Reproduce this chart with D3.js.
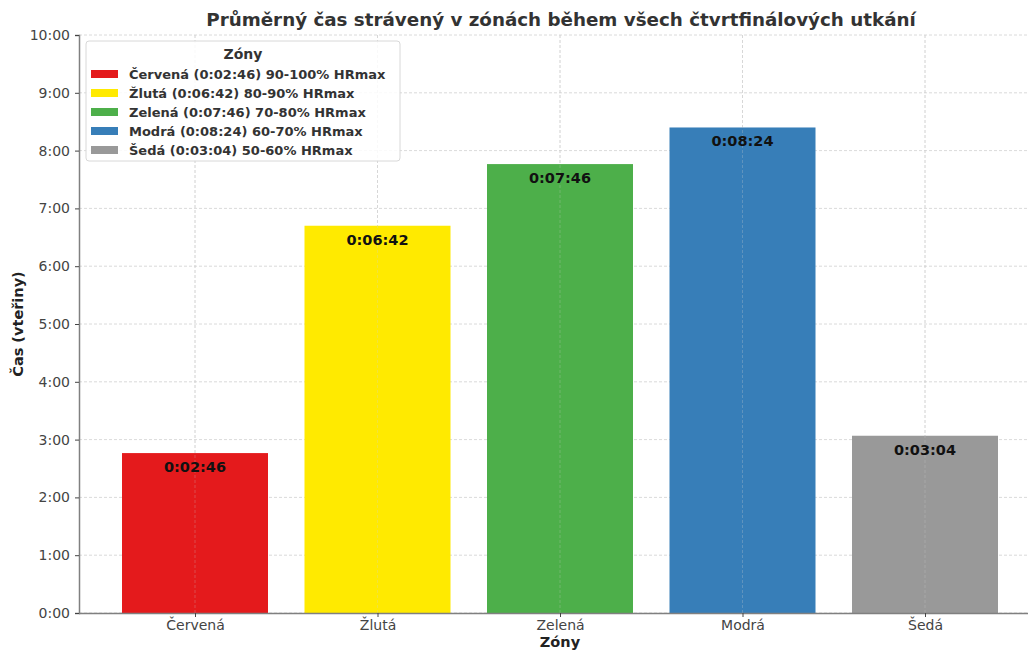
<!DOCTYPE html>
<html><head><meta charset="utf-8">
<script src="https://cdn.jsdelivr.net/npm/d3@7"></script>
<style>body{margin:0;background:#fff;font-family:"DejaVu Sans",sans-serif;}</style>
</head><body><svg id="c" width="1028" height="650"></svg>
<script>
const categories = ["Červená","Žlutá","Zelená","Modrá","Šedá"];
const seconds = [166, 402, 466, 504, 184];
const colors = ["#e41a1c","#ffea00","#4daf4a","#377eb8","#999999"];
const legendLabels = ["Červená (0:02:46) 90-100% HRmax","Žlutá (0:06:42) 80-90% HRmax","Zelená (0:07:46) 70-80% HRmax","Modrá (0:08:24) 60-70% HRmax","Šedá (0:03:04) 50-60% HRmax"];
const yTicks = [0,60,120,180,240,300,360,420,480,540,600];
const title = "Průměrný čas strávený v zónách během všech čtvrtfinálových utkání";

const svg = d3.select("#c");
const L = 79, T = 35, B = 613;
const x = d3.scaleLinear().domain([0, 4]).range([195, 925]);
const R = x(4.636);
const y = d3.scaleLinear().domain([0, 600]).range([B, T]);
const bw = 0.8 * (x(1) - x(0));
const fmtM = s => Math.floor(s/60) + ":" + String(s%60).padStart(2,"0");
const fmtH = s => "0:" + String(Math.floor(s/60)).padStart(2,"0") + ":" + String(s%60).padStart(2,"0");

// grid
svg.append("g").selectAll("line").data(yTicks).join("line")
  .attr("x1", L).attr("x2", 1028).attr("y1", d => y(d)).attr("y2", d => y(d))
  .attr("stroke", "#d0d0d0").attr("stroke-dasharray", "3,2").attr("stroke-width", 0.8);
svg.append("g").selectAll("line").data(categories).join("line")
  .attr("x1", (d,i) => x(i)).attr("x2", (d,i) => x(i)).attr("y1", T).attr("y2", B)
  .attr("stroke", "#d0d0d0").attr("stroke-dasharray", "3,2").attr("stroke-width", 0.8);

// bars
svg.append("g").selectAll("rect").data(seconds).join("rect")
  .attr("x", (d,i) => x(i) - bw/2).attr("width", bw)
  .attr("y", d => y(d)).attr("height", d => B - y(d))
  .attr("fill", (d,i) => colors[i]);
svg.append("g").selectAll("line").data(categories).join("line")
  .attr("x1", (d,i) => x(i)).attr("x2", (d,i) => x(i)).attr("y1", T).attr("y2", B)
  .attr("stroke", "#d0d0d0").attr("stroke-opacity", 0.35).attr("stroke-dasharray", "3,2").attr("stroke-width", 0.8);

// value labels
svg.append("g").selectAll("text").data(seconds).join("text")
  .attr("x", (d,i) => x(i)).attr("y", d => y(d) + 19)
  .attr("text-anchor", "middle").attr("font-weight", "bold").attr("font-size", 14.5)
  .attr("fill", "#111").text(d => fmtH(d));

// axes
const yAxis = d3.axisLeft(y).tickValues(yTicks).tickFormat(fmtM).tickSize(4).tickPadding(5);
const gy = svg.append("g").attr("transform", `translate(${L},0)`).call(yAxis);
gy.select(".domain").attr("stroke", "#808080").attr("stroke-width", 1.5);
gy.selectAll(".tick line").attr("stroke", "#444");
gy.selectAll("text").attr("font-size", 14).attr("fill", "#444").attr("font-family", "DejaVu Sans");

const xAxis = d3.axisBottom(x).tickValues([0,1,2,3,4]).tickFormat(i => categories[i]).tickSize(4).tickPadding(3);
const gx = svg.append("g").attr("transform", `translate(0,${B})`).call(xAxis);
gx.select(".domain").attr("d", `M${L},0.5H1028`).attr("stroke", "#808080").attr("stroke-width", 1.5);
gx.selectAll(".tick line").attr("stroke", "#444");
gx.selectAll("text").attr("font-size", 14).attr("fill", "#444").attr("font-family", "DejaVu Sans");

// titles
svg.append("text").attr("x", 561).attr("y", 26).attr("text-anchor", "middle")
  .attr("font-size", 18.3).attr("font-weight", "bold").attr("fill", "#333").text(title);
svg.append("text").attr("x", 560).attr("y", 647).attr("text-anchor", "middle")
  .attr("font-size", 14.5).attr("font-weight", "bold").attr("fill", "#222").text("Zóny");
svg.append("text").attr("transform", `translate(23,${(T+B)/2}) rotate(-90)`).attr("text-anchor", "middle")
  .attr("font-size", 14.5).attr("font-weight", "bold").attr("fill", "#222").text("Čas (vteřiny)");

// legend
const lg = svg.append("g");
lg.append("rect").attr("x", 86).attr("y", 41).attr("width", 314).attr("height", 120).attr("rx", 3)
  .attr("fill", "#fff").attr("fill-opacity", 0.85).attr("stroke", "#d8d8d8");
lg.append("text").attr("x", 243).attr("y", 59).attr("text-anchor", "middle")
  .attr("font-size", 14).attr("font-weight", "bold").attr("fill", "#333").text("Zóny");
const items = lg.selectAll("g.it").data(legendLabels).join("g").attr("class", "it")
  .attr("transform", (d,i) => `translate(0,${74 + i*19})`);
items.append("rect").attr("x", 91).attr("y", -4).attr("width", 27).attr("height", 8)
  .attr("fill", (d,i) => colors[i]);
items.append("text").attr("x", 129).attr("y", 5).attr("font-size", 13).attr("font-weight", "bold")
  .attr("fill", "#333").text(d => d);
</script></body></html>
